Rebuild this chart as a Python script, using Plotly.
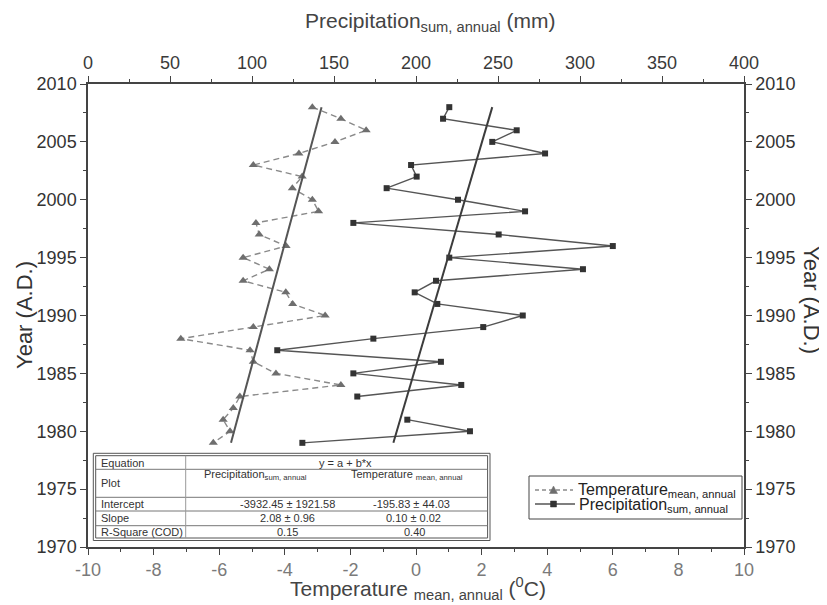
import plotly.graph_objects as go

# ---------------- data ----------------
years = [2008, 2007, 2006, 2005, 2004, 2003, 2002, 2001, 2000, 1999,
         1998, 1997, 1996, 1995, 1994, 1993, 1992, 1991, 1990, 1989,
         1988, 1987, 1986, 1985, 1984, 1983, 1982, 1981, 1980, 1979]

temperature = [-3.16, -2.29, -1.52, -2.47, -3.57, -4.96, -3.47, -3.77, -3.16, -2.97,
               -4.88, -4.78, -3.96, -5.27, -4.47, -5.27, -3.97, -3.76, -2.77, -4.96,
               -7.17, -5.06, -4.96, -4.27, -2.29, -5.37, -5.57, -5.88, -5.67, -6.18]

precipitation = [220.3, 216.5, 261.4, 246.5, 278.7, 197.0, 200.4, 182.1, 225.6, 266.5,
                 161.8, 250.4, 320.0, 220.3, 301.8, 212.2, 199.2, 213.0, 265.1, 241.0,
                 174.0, 115.4, 215.2, 161.8, 227.6, 164.2, None, 194.7, 232.9, 130.7]

trend_years = [1979, 2008]
temperature_trend = [-5.64, -2.88]
precipitation_trend = [186.2, 246.5]

temp_tickvals = [-10, -8, -6, -4, -2, 0, 2, 4, 6, 8, 10]
temp_ticktext = ["-10", "-8", "-6", "-4", "-2", "0", "2", "4", "6", "8", "10"]
precip_tickvals = [0, 50, 100, 150, 200, 250, 300, 350, 400]
year_tickvals = [1970, 1975, 1980, 1985, 1990, 1995, 2000, 2005, 2010]

legend_labels = ["Temperature<sub>mean, annual</sub>", "Precipitation<sub>sum, annual</sub>"]

table_rows = ["Equation", "Plot", "Intercept", "Slope", "R-Square (COD)"]
table_precip = ["", "Precipitation<sub>sum, annual</sub>", "-3932.45 ± 1921.58", "2.08 ± 0.96", "0.15"]
table_temp = ["", "Temperature <sub>mean, annual</sub>", "-195.83 ± 44.03", "0.10 ± 0.02", "0.40"]
equation_text = "y = a + b*x"

# ---------------- layout geometry (page offset 8px from body margin) ----------------
OFF = 8
W, H = 827 - OFF, 605 - OFF
PL, PR, PT, PB = 88, 744, 84, 547          # plot area in page pixels
L, T = PL - OFF, PT - OFF
B = H - (PB - OFF)
R = W - (PR - OFF)
PW, PH = PR - PL, PB - PT


def px(x):
    return (x - PL) / PW


def py(y):
    return (PB - y) / PH


FONT = "Liberation Sans, Arial, sans-serif"
TEMP_LINE = "#8a8a8a"
TEMP_MARK = "#6e6e6e"
PREC_LINE = "#555555"
PREC_MARK = "#333333"

fig = go.Figure()

fig.add_trace(go.Scatter(
    x=temperature, y=years, mode="lines+markers", name=legend_labels[0], showlegend=False,
    line=dict(color=TEMP_LINE, width=1.4, dash="6px,4px"),
    marker=dict(symbol="triangle-up", size=8, color=TEMP_MARK),
    xaxis="x", yaxis="y"))

fig.add_trace(go.Scatter(
    x=precipitation, y=years, mode="lines+markers", name=legend_labels[1], showlegend=False,
    connectgaps=False,
    line=dict(color=PREC_LINE, width=1.4),
    marker=dict(symbol="square", size=6, color=PREC_MARK),
    xaxis="x2", yaxis="y2"))

fig.add_trace(go.Scatter(
    x=temperature_trend, y=trend_years, mode="lines", showlegend=False,
    line=dict(color="#555555", width=2), xaxis="x", yaxis="y"))
fig.add_trace(go.Scatter(
    x=precipitation_trend, y=trend_years, mode="lines", showlegend=False,
    line=dict(color="#3c3c3c", width=2), xaxis="x2", yaxis="y2"))

axis_common = dict(showline=True, linecolor="#444444", linewidth=1.5,
                   ticks="outside", ticklen=6, tickwidth=1.2, tickcolor="#444444",
                   showgrid=False, zeroline=False)

fig.update_layout(
    width=W, height=H,
    margin=dict(l=L, r=R, t=T, b=B, pad=0),
    paper_bgcolor="white", plot_bgcolor="white",
    font=dict(family=FONT, color="#333333"),
    showlegend=False,
    xaxis=dict(range=[-10, 10], tickmode="array", tickvals=temp_tickvals, ticktext=temp_ticktext,
               tickfont=dict(size=18, color="#7a7a7a"),
               minor=dict(dtick=1, tick0=-10, ticklen=3, ticks="outside", tickcolor="#444444"),
               **axis_common),
    xaxis2=dict(range=[0, 400], tickmode="array", tickvals=precip_tickvals,
                overlaying="x", side="top", anchor="y",
                tickfont=dict(size=18, color="#3a3a3a"),
                minor=dict(dtick=25, tick0=0, ticklen=3, ticks="outside", tickcolor="#444444"),
                **axis_common),
    yaxis=dict(range=[1970, 2010], tickmode="array", tickvals=year_tickvals,
               tickfont=dict(size=18, color="#333333"),
               minor=dict(dtick=2.5, tick0=1970, ticklen=3, ticks="outside", tickcolor="#444444"),
               **axis_common),
    yaxis2=dict(range=[1970, 2010], tickmode="array", tickvals=year_tickvals,
                overlaying="y", side="right", anchor="x",
                tickfont=dict(size=18, color="#333333"),
                minor=dict(dtick=2.5, tick0=1970, ticklen=3, ticks="outside", tickcolor="#444444"),
                **axis_common),
)

annotations = []
# axis titles
annotations.append(dict(text="Precipitation<sub>sum, annual</sub> (mm)", x=px(430), y=py(22),
                        xref="paper", yref="paper", showarrow=False,
                        font=dict(size=21, color="#444444"), xanchor="center", yanchor="middle"))
annotations.append(dict(text="Temperature <sub>mean, annual</sub> (<sup>0</sup>C)", x=px(418), y=py(588),
                        xref="paper", yref="paper", showarrow=False,
                        font=dict(size=21, color="#444444"), xanchor="center", yanchor="middle"))
annotations.append(dict(text="Year (A.D.)", x=px(24), y=py(315), textangle=-90,
                        xref="paper", yref="paper", showarrow=False,
                        font=dict(size=22, color="#333333"), xanchor="center", yanchor="middle"))
annotations.append(dict(text="Year (A.D.)", x=px(812), y=py(300), textangle=90,
                        xref="paper", yref="paper", showarrow=False,
                        font=dict(size=22, color="#333333"), xanchor="center", yanchor="middle"))

# table texts
row_y = [462.5, 483, 503.5, 518, 532]
head_y = 475
for name, yv in zip(table_rows, row_y):
    annotations.append(dict(text=name, x=px(99), y=py(yv), xref="paper", yref="paper",
                            showarrow=False, xanchor="left", yanchor="middle",
                            font=dict(size=11, color="#333333")))
annotations.append(dict(text=equation_text, x=px(345), y=py(462.5), xref="paper", yref="paper",
                        showarrow=False, xanchor="center", yanchor="middle",
                        font=dict(size=11, color="#333333")))
col_x_precip = [0, 255, 287, 287, 287]
col_x_temp = [0, 407, 411, 413, 414]
for i in range(1, 5):
    yv = head_y if i == 1 else row_y[i]
    annotations.append(dict(text=table_precip[i], x=px(col_x_precip[i]), y=py(yv),
                            xref="paper", yref="paper", showarrow=False,
                            xanchor="center", yanchor="middle",
                            font=dict(size=11, color="#333333")))
    annotations.append(dict(text=table_temp[i], x=px(col_x_temp[i]), y=py(yv),
                            xref="paper", yref="paper", showarrow=False,
                            xanchor="center", yanchor="middle",
                            font=dict(size=11, color="#333333")))

# legend texts
annotations.append(dict(text=legend_labels[0], x=px(576), y=py(489), xref="paper", yref="paper",
                        showarrow=False, xanchor="left", yanchor="top", yshift=10,
                        font=dict(size=16, color="#222222")))
annotations.append(dict(text=legend_labels[1], x=px(577), y=py(504), xref="paper", yref="paper",
                        showarrow=False, xanchor="left", yanchor="top", yshift=10,
                        font=dict(size=16, color="#222222")))
fig.update_layout(annotations=annotations)

shapes = []
# table frame
shapes.append(dict(type="rect", xref="paper", yref="paper",
                   x0=px(93.3), x1=px(490), y0=py(540.5), y1=py(453.3),
                   line=dict(color="#555555", width=1), fillcolor="white", layer="above"))
shapes.append(dict(type="rect", xref="paper", yref="paper",
                   x0=px(95.7), x1=px(487.6), y0=py(538), y1=py(455.7),
                   line=dict(color="#555555", width=1), layer="above"))
for yl in [469.3, 497.3, 511, 525.7]:
    shapes.append(dict(type="line", xref="paper", yref="paper",
                       x0=px(95.7), x1=px(487.6), y0=py(yl), y1=py(yl),
                       line=dict(color="#777777", width=1), layer="above"))
shapes.append(dict(type="line", xref="paper", yref="paper",
                   x0=px(185.7), x1=px(185.7), y0=py(538), y1=py(455.7),
                   line=dict(color="#999999", width=1), layer="above"))

# legend frame and symbols
shapes.append(dict(type="rect", xref="paper", yref="paper",
                   x0=px(529), x1=px(742), y0=py(519), y1=py(476),
                   line=dict(color="#444444", width=1), fillcolor="white", layer="above"))
shapes.append(dict(type="line", xref="paper", yref="paper",
                   x0=px(535), x1=px(573), y0=py(490), y1=py(490),
                   line=dict(color=TEMP_LINE, width=1.4, dash="4px,3px"), layer="above"))
tx, ty = 553.5, 490
shapes.append(dict(type="path", xref="paper", yref="paper",
                   path=(f"M {px(tx - 4)},{py(ty + 3.5)} L {px(tx + 4)},{py(ty + 3.5)} "
                         f"L {px(tx)},{py(ty - 4)} Z"),
                   line=dict(color=TEMP_MARK, width=0.5), fillcolor=TEMP_MARK, layer="above"))
shapes.append(dict(type="line", xref="paper", yref="paper",
                   x0=px(535), x1=px(575), y0=py(504), y1=py(504),
                   line=dict(color=PREC_LINE, width=1.4), layer="above"))
sx, sy = 553.5, 504
shapes.append(dict(type="rect", xref="paper", yref="paper",
                   x0=px(sx - 3), x1=px(sx + 3), y0=py(sy + 3), y1=py(sy - 3),
                   line=dict(color=PREC_MARK, width=0.5), fillcolor=PREC_MARK, layer="above"))
fig.update_layout(shapes=shapes)

fig.write_html("out.html")
